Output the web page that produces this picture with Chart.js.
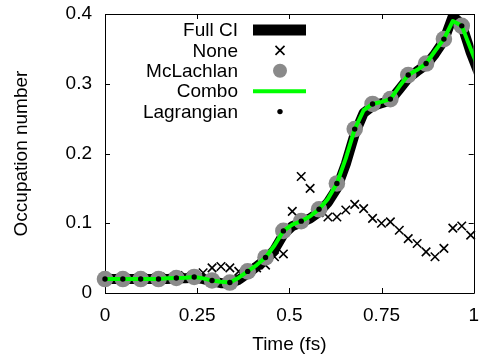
<!DOCTYPE html>
<html><head><meta charset="utf-8">
<script src="https://cdn.jsdelivr.net/npm/chart.js@4.4.1/dist/chart.umd.min.js"></script>
<style>html,body{margin:0;padding:0;background:#fff}#wrap{width:482px;height:356px}</style>
</head><body><div id="wrap"><canvas id="c" width="482" height="356"></canvas></div>
<script>
// time grid (fs), 1 a.u. steps and 2 a.u. steps
const fineTime = [0, 0.0242, 0.0484, 0.0726, 0.0968, 0.1209, 0.1451, 0.1693, 0.1935, 0.2177,
  0.2419, 0.2661, 0.2903, 0.3145, 0.3386, 0.3628, 0.3870, 0.4112, 0.4354, 0.4596,
  0.4838, 0.5080, 0.5322, 0.5563, 0.5805, 0.6047, 0.6289, 0.6531, 0.6773, 0.7015,
  0.7257, 0.7499, 0.7740, 0.7982, 0.8224, 0.8466, 0.8708, 0.8950, 0.9192, 0.9434,
  0.9676, 0.9918, 1.0160];
const coarseTime = [0, 0.0484, 0.0968, 0.1451, 0.1935, 0.2419, 0.2903, 0.3386, 0.3870, 0.4354,
  0.4838, 0.5322, 0.5805, 0.6289, 0.6773, 0.7257, 0.7740, 0.8224, 0.8708, 0.9192, 0.9676];

const fullCI = [0.020, 0.020, 0.020, 0.020, 0.020, 0.020, 0.020, 0.020, 0.021, 0.021,
  0.022, 0.020, 0.017, 0.014, 0.014, 0.019, 0.028, 0.038, 0.048, 0.062,
  0.084, 0.096, 0.101, 0.107, 0.116, 0.130, 0.150, 0.185, 0.228, 0.258,
  0.268, 0.272, 0.276, 0.292, 0.308, 0.318, 0.327, 0.343, 0.362, 0.397,
  0.385, 0.345, 0.312];
const none = [0.020, 0.020, 0.020, 0.021, 0.021, 0.022, 0.022, 0.023, 0.024, 0.025,
  0.026, 0.029, 0.036, 0.038, 0.036, 0.031, 0.030, 0.036, 0.040, 0.052,
  0.056, 0.117, 0.167, 0.150, 0.115, 0.109, 0.109, 0.119, 0.127, 0.121,
  0.107, 0.100, 0.102, 0.090, 0.078, 0.071, 0.059, 0.052, 0.064, 0.093,
  0.096, 0.083];
const mcLachlan = [0.020, 0.020, 0.020, 0.020, 0.0215, 0.023, 0.018, 0.015, 0.031, 0.051,
  0.089, 0.103, 0.120, 0.157, 0.235, 0.271, 0.278, 0.3125, 0.329, 0.364, 0.383];
const combo = [0.020, 0.020, 0.020, 0.020, 0.020, 0.020, 0.020, 0.021, 0.0215, 0.022,
  0.023, 0.021, 0.018, 0.016, 0.015, 0.022, 0.031, 0.040, 0.051, 0.068,
  0.089, 0.098, 0.103, 0.110, 0.120, 0.135, 0.157, 0.193, 0.235, 0.262,
  0.271, 0.274, 0.278, 0.296, 0.3125, 0.320, 0.329, 0.347, 0.364, 0.390,
  0.383, 0.350, 0.318];
const lagrangian = [0.020, 0.020, 0.020, 0.020, 0.0215, 0.023, 0.018, 0.015, 0.031, 0.051,
  0.089, 0.103, 0.120, 0.157, 0.235, 0.271, 0.278, 0.3125, 0.329, 0.364, 0.383];

const xTickLabels = ['0', '0.25', '0.5', '0.75', '1'];
const yTickLabels = ['0', '0.1', '0.2', '0.3', '0.4'];
const seriesNames = ['Full CI', 'None', 'McLachlan', 'Combo', 'Lagrangian'];

const FONT = 'Liberation Sans, Arial, Helvetica, sans-serif';
const pts = (xs, ys) => ys.map((v, i) => ({x: xs[i], y: v}));

const framePlugin = {
  id: 'frame',
  beforeDatasetsDraw(chart) {
    const {ctx, chartArea: a, scales: {x, y}} = chart;
    ctx.save();
    ctx.strokeStyle = '#000';
    ctx.lineWidth = 1;
    ctx.beginPath();
    ctx.rect(Math.round(a.left) + 0.5, Math.round(a.top) + 0.5,
      Math.round(a.right - a.left), Math.round(a.bottom - a.top));
    ctx.stroke();
    const L = 5;
    ctx.beginPath();
    x.ticks.forEach(t => {
      const px = Math.round(x.getPixelForValue(t.value)) + 0.5;
      ctx.moveTo(px, a.bottom); ctx.lineTo(px, a.bottom - L);
      ctx.moveTo(px, a.top); ctx.lineTo(px, a.top + L);
    });
    y.ticks.forEach(t => {
      const py = Math.round(y.getPixelForValue(t.value)) + 0.5;
      ctx.moveTo(a.left, py); ctx.lineTo(a.left + L, py);
      ctx.moveTo(a.right, py); ctx.lineTo(a.right - L, py);
    });
    ctx.stroke();
    ctx.restore();
  }
};

const legendPlugin = {
  id: 'gpLegend',
  afterDatasetsDraw(chart) {
    const {ctx} = chart;
    const textRight = 238, sx0 = 253, sx1 = 306, sc = 280;
    ctx.save();
    ctx.font = '19px ' + FONT;
    ctx.textAlign = 'right';
    ctx.textBaseline = 'middle';
    chart.data.datasets.forEach((ds, i) => {
      const yy = 30 + 20.4 * i;
      ctx.fillStyle = '#000';
      ctx.fillText(ds.label, textRight, yy + 1);
      if (ds.kind === 'thick') {
        ctx.fillStyle = ds.borderColor;
        ctx.fillRect(sx0, yy - 5.5, sx1 - sx0, 11);
      } else if (ds.kind === 'line') {
        ctx.strokeStyle = ds.borderColor;
        ctx.lineWidth = ds.borderWidth;
        ctx.beginPath(); ctx.moveTo(sx0, yy); ctx.lineTo(sx1, yy); ctx.stroke();
      } else if (ds.kind === 'cross') {
        const r = 4.5;
        ctx.strokeStyle = ds.borderColor;
        ctx.lineWidth = ds.pointBorderWidth;
        ctx.beginPath();
        ctx.moveTo(sc - r, yy - r); ctx.lineTo(sc + r, yy + r);
        ctx.moveTo(sc - r, yy + r); ctx.lineTo(sc + r, yy - r);
        ctx.stroke();
      } else if (ds.kind === 'circle') {
        ctx.fillStyle = ds.pointBackgroundColor;
        ctx.beginPath(); ctx.arc(sc, yy, 7, 0, Math.PI * 2); ctx.fill();
      } else if (ds.kind === 'dot') {
        ctx.fillStyle = ds.pointBackgroundColor;
        ctx.beginPath(); ctx.arc(sc, yy, ds.pointRadius, 0, Math.PI * 2); ctx.fill();
      }
    });
    ctx.restore();
  }
};

new Chart(document.getElementById('c'), {
  type: 'line',
  data: {
    datasets: [
      {label: seriesNames[0], kind: 'thick', data: pts(fineTime, fullCI), borderColor: '#000',
        borderWidth: 10, pointRadius: 0, borderJoinStyle: 'round', order: 5, clip: 0},
      {label: seriesNames[1], kind: 'cross', data: pts(fineTime, none), showLine: false,
        pointStyle: 'crossRot', pointRadius: 6, pointBorderWidth: 1.6, borderColor: '#000',
        pointBorderColor: '#000', order: 4, clip: false},
      {label: seriesNames[2], kind: 'circle', data: pts(coarseTime, mcLachlan), showLine: false,
        pointStyle: 'circle', pointRadius: 8.3, pointBorderWidth: 0, pointBackgroundColor: '#8a8a8a',
        pointBorderColor: '#8a8a8a', borderColor: '#8a8a8a', order: 3, clip: false},
      {label: seriesNames[3], kind: 'line', data: pts(fineTime, combo), borderColor: '#00ff00',
        borderWidth: 4, pointRadius: 0, borderJoinStyle: 'round', order: 2, clip: 0},
      {label: seriesNames[4], kind: 'dot', data: pts(coarseTime, lagrangian), showLine: false,
        pointStyle: 'circle', pointRadius: 2.7, pointBorderWidth: 0, pointBackgroundColor: '#000',
        pointBorderColor: '#000', borderColor: '#000', order: 1, clip: false}
    ]
  },
  options: {
    responsive: false,
    devicePixelRatio: 1,
    animation: false,
    layout: {padding: {left: 0, right: 6, top: 14, bottom: 0}},
    plugins: {legend: {display: false}, tooltip: {enabled: false}, title: {display: false}},
    scales: {
      x: {
        type: 'linear', min: 0, max: 1,
        afterFit: s => { s.height = 63; s.paddingLeft = 0; s.paddingRight = 0; },
        grid: {display: false, drawTicks: false},
        border: {display: false},
        ticks: {stepSize: 0.25, padding: 11, color: '#000', font: {family: FONT, size: 19},
          maxRotation: 0, callback: (v, i) => xTickLabels[i]},
        title: {display: true, text: 'Time (fs)', color: '#000',
          font: {family: FONT, size: 19, lineHeight: 1.2}, padding: {top: 0, bottom: 0}}
      },
      y: {
        type: 'linear', min: 0, max: 0.4,
        afterFit: s => { s.width = 105; s.paddingTop = 0; s.paddingBottom = 0; },
        grid: {display: false, drawTicks: false},
        border: {display: false},
        ticks: {stepSize: 0.1, padding: 13, color: '#000', font: {family: FONT, size: 19},
          callback: (v, i) => yTickLabels[i]},
        title: {display: true, text: 'Occupation number', color: '#000',
          font: {family: FONT, size: 19, lineHeight: 1.2}, padding: {top: 10, bottom: 0}}
      }
    }
  },
  plugins: [framePlugin, legendPlugin]
});
</script></body></html>
